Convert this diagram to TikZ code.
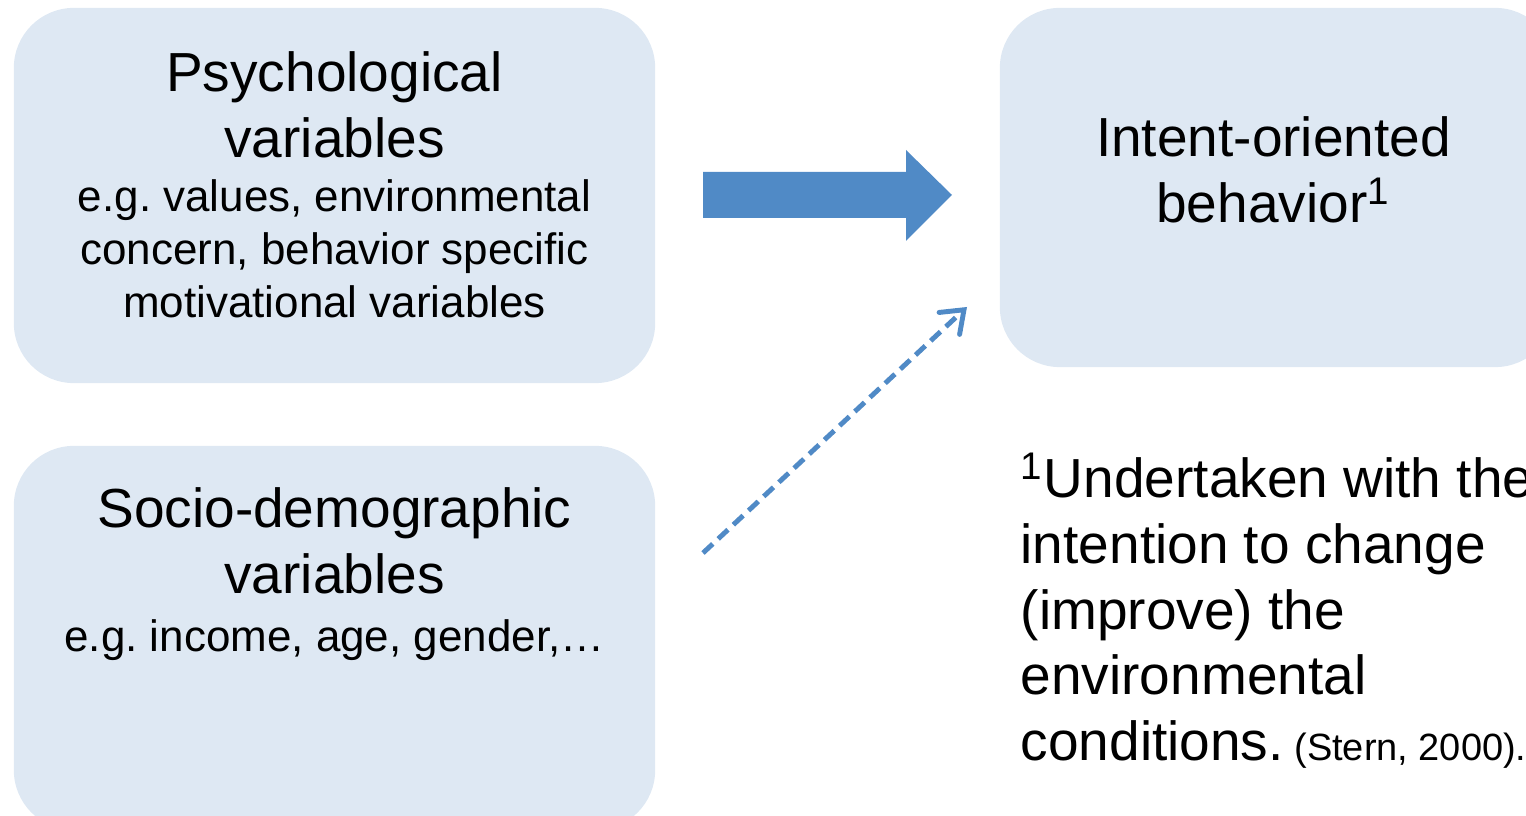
\documentclass[tikz,border=0pt]{standalone}
\usepackage{fontspec}
\setmainfont{Liberation Sans}
\usetikzlibrary{positioning,arrows.meta}
\frenchspacing
\definecolor{boxfill}{RGB}{222,232,243}
\definecolor{accent}{RGB}{80,138,198}
\newcommand{\bigtxt}{\fontsize{15.65}{18.7}\selectfont}
\newcommand{\smalltxt}{\fontsize{12.5}{15.1}\selectfont}
\newcommand{\citetxt}{\fontsize{10.8}{13}\selectfont}
\tikzset{
  varbox/.style={rectangle,rounded corners=0.6cm,fill=boxfill,inner sep=0pt},
  title/.style={align=center,inner sep=0pt,font=\bigtxt},
  example/.style={align=center,inner sep=0pt,font=\smalltxt},
  effect/.style={fill=accent},
  maybe/.style={draw=accent,line width=1.4pt,dash pattern=on 3.8pt off 2.1pt,
    -{Straight Barb[length=0.2cm,width=0.3cm,line cap=round]}},
}

\begin{document}
\begin{tikzpicture}[x=0.01cm,y=-0.01cm]
\useasboundingbox (0,0) rectangle (1526,816);
\clip (0,0) rectangle (1526,816);
% the three boxes
\node[varbox,minimum width=6.41cm,minimum height=3.75cm] (psych) at (334.5,195.5) {};
\node[varbox,minimum width=6.41cm,minimum height=3.84cm] (socio) at (334.5,638) {};
\node[varbox,minimum width=5.55cm,minimum height=3.59cm] (intent) at (1277.5,187.5) {};
% box texts
\node[title,below=0.44cm of psych.north] (psychtitle) {Psychological\\variables};
\node[example,below=0.2cm of psychtitle] (psychex) {e.g. values, environmental\\concern, behavior specific\\motivational variables};
\node[title,below=0.42cm of socio.north] (sociotitle) {Socio-demographic\\variables};
\node[example,below=0.24cm of sociotitle] (socioex) {e.g. income, age, gender,…};
\node[title,below=1.09cm of intent.north,xshift=-0.04cm] (intenttitle) {Intent-oriented\\behavior\textsuperscript{1}};
% footnote
\node[anchor=north west,inner sep=0pt,align=left,font=\bigtxt] (note) at (1020,452)
  {\textsuperscript{1}Undertaken with the\\intention to change\\(improve) the\\environmental\\conditions.{\citetxt\ (Stern, 2000).}};
% arrows
\coordinate (pushfrom) at (703,195);
\coordinate (pushto) at (952,195);
\fill[effect] (pushfrom) ++(0,-23) -- ++(203,0) -- ++(0,-22) -- (pushto)
  -- ++(-46,46) -- ++(0,-23) -- ++(-203,0) -- cycle;
\coordinate (dashfrom) at (703,553);
\coordinate (dashto) at (967,307);
\draw[maybe] (dashfrom) -- (dashto);
\end{tikzpicture}
\end{document}
